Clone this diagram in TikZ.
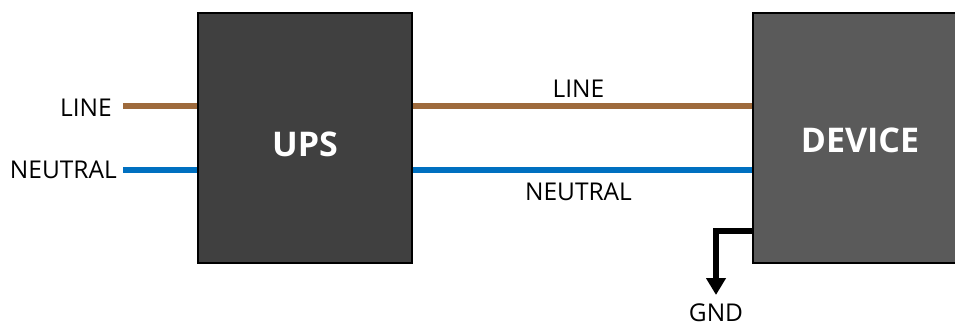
\documentclass[tikz,border=0pt]{standalone}
\usepackage{fontspec}
\setmainfont{Open Sans}
\usetikzlibrary{arrows.meta}
\definecolor{wirebrown}{HTML}{9E6A3C}
\definecolor{wireblue}{HTML}{0070C0}
\definecolor{upsfill}{HTML}{404040}
\definecolor{devfill}{HTML}{5A5A5A}
\begin{document}
\begin{tikzpicture}[x=1pt,y=1pt,
  box/.style={draw=black,line width=1.5pt,minimum width=214pt,minimum height=250pt,inner sep=0pt},
  boxlabel/.style={text=white,font=\fontsize{34}{40}\selectfont\bfseries},
  lbl/.style={text=black,font=\fontsize{24.5}{28}\selectfont,inner sep=0pt},
  brownwire/.style={draw=wirebrown,line width=6pt},
  bluewire/.style={draw=wireblue,line width=6pt},
  gndwire/.style={draw=black,line width=6pt,-{Triangle[width=19pt,length=17pt]}}]
\useasboundingbox (0,0) rectangle (955,325);
\node[box,fill=upsfill] (ups) at (305,187) {};
\node[box,fill=devfill] (dev) at (860,187) {};
\node[boxlabel] (upst) at (305,181) {UPS};
\node[boxlabel] (devt) at (860,184.5) {DEVICE};
\coordinate (lineL) at (123,219);
\coordinate (neuL) at (123,155.3);
\node[lbl,anchor=east] (linelbl) at (112,217) {LINE};
\node[lbl,anchor=east] (neulbl) at (117,155) {NEUTRAL};
\draw[brownwire] (lineL) -- (lineL -| ups.west);
\draw[bluewire] (neuL) -- (neuL -| ups.west);
\draw[brownwire] (lineL -| ups.east) -- (lineL -| dev.west);
\draw[bluewire] (neuL -| ups.east) -- (neuL -| dev.west);
\node[lbl] (linemid) at (578.5,236.7) {LINE};
\node[lbl] (neumid) at (578.5,133.5) {NEUTRAL};
\coordinate (gndstart) at (dev.west |- 0,94);
\coordinate (gndend) at (716,30);
\draw[gndwire] (gndstart) -| (gndend);
\node[lbl] (gndlbl) at (716,12.5) {GND};
\end{tikzpicture}
\end{document}
